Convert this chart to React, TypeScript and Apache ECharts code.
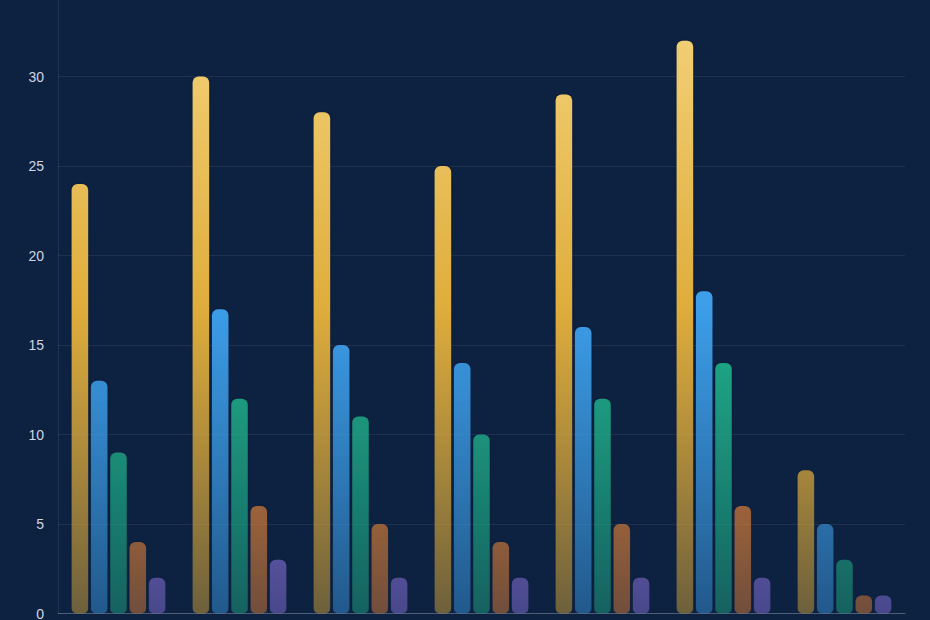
import React, { useEffect, useRef } from "react";
import * as echarts from "echarts";

const categories = ["Cat 1", "Cat 2", "Cat 3", "Cat 4", "Cat 5", "Cat 6", "Cat 7"];
const seriesNames = ["Series A", "Series B", "Series C", "Series D", "Series E"];
const seriesA = [24, 30, 28, 25, 29, 32, 8];
const seriesB = [13, 17, 15, 14, 16, 18, 5];
const seriesC = [9, 12, 11, 10, 12, 14, 3];
const seriesD = [4, 6, 5, 4, 5, 6, 1];
const seriesE = [2, 3, 2, 2, 2, 2, 1];
const seriesValues = [seriesA, seriesB, seriesC, seriesD, seriesE];
const yTicks = [0, 5, 10, 15, 20, 25, 30, 35];

const palette: [string, string, number[]][] = [
  ["#f4d37c", "#dfad3c", [223, 173, 60]],
  ["#72bdf5", "#3c9de8", [60, 157, 232]],
  ["#4fd0a8", "#20b08b", [32, 176, 139]],
  ["#f0a870", "#e6863a", [230, 134, 58]],
  ["#ab9bf2", "#8f78e6", [143, 120, 230]],
];

export default function App() {
  const ref = useRef<HTMLDivElement>(null);
  useEffect(() => {
    if (!ref.current) return;
    const chart = echarts.init(ref.current, undefined, { renderer: "svg" });
    const mkGrad = (i: number) => {
      const [top, mid, rgb] = palette[i];
      return new echarts.graphic.LinearGradient(
        0, 60, 0, 673.5,
        [
          { offset: 0, color: top },
          { offset: 0.5, color: mid },
          { offset: 1, color: `rgba(${rgb[0]},${rgb[1]},${rgb[2]},0.42)` },
        ],
        true
      );
    };
    chart.setOption({
      animation: false,
      backgroundColor: "#0d2141",
      grid: { left: 58, right: 25, top: 47, bottom: 46.5, containLabel: false },
      xAxis: {
        type: "category",
        data: categories,
        axisLine: { lineStyle: { color: "rgba(255,255,255,0.22)", width: 1 } },
        axisTick: { show: false },
        axisLabel: { show: false },
      },
      yAxis: {
        type: "value",
        min: yTicks[0],
        max: yTicks[yTicks.length - 1],
        interval: 5,
        axisLine: { show: true, lineStyle: { color: "rgba(255,255,255,0.08)" } },
        axisTick: { show: false },
        axisLabel: {
          color: "#d0d6e2",
          fontSize: 14,
          margin: 14,
          showMaxLabel: false,
          fontFamily: "'Liberation Sans', Arial, sans-serif",
        },
        splitLine: { lineStyle: { color: "rgba(255,255,255,0.075)" } },
      },
      series: seriesValues.map((vals, i) => ({
        name: seriesNames[i],
        type: "bar",
        data: vals,
        barWidth: 16.5,
        barGap: "17%",
        itemStyle: {
          color: mkGrad(i),
          borderRadius: [6, 6, 5, 5],
          shadowColor: "rgba(0,0,0,0.3)",
          shadowBlur: 3,
        },
      })),
    });
    return () => chart.dispose();
  }, []);
  return (
    <div
      ref={ref}
      style={{
        position: "fixed",
        left: 0,
        top: -60,
        width: 930,
        height: 720,
        background: "#0d2141",
      }}
    />
  );
}
